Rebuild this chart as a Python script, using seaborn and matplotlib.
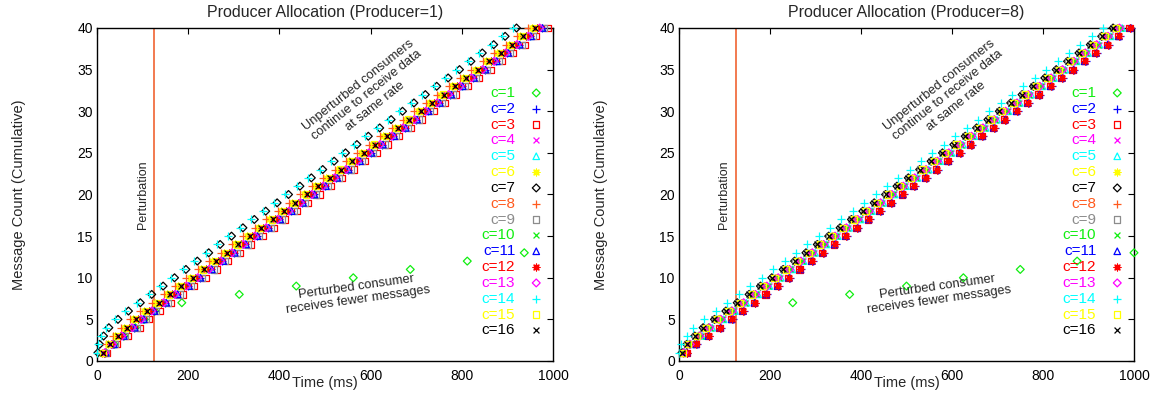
import numpy as np
import pandas as pd
import matplotlib
matplotlib.use("Agg")
import matplotlib.pyplot as plt
import seaborn as sns

# ---------------- data ----------------
consumers = [f"c={i}" for i in range(1, 17)]
msg_ids = list(range(1, 41))

# arrival time (ms) of each message at the leading consumer (c=14)
left_base_ms = [0, 2, 9, 19, 39, 62, 88,
                113, 138, 163, 188, 213, 238, 263, 288, 313, 338, 363, 388, 413,
                438, 463, 488, 513, 538, 563, 588, 613, 638, 663, 688, 713, 738,
                763, 788, 813, 838, 863, 888, 913]
right_base_ms = [0, 5, 17, 31, 56, 81, 106,
                 132, 157, 182, 207, 232, 257, 282, 307, 332, 357, 382, 407, 432,
                 457, 482, 507, 532, 557, 582, 607, 632, 657, 682, 707, 732, 757,
                 782, 807, 832, 857, 882, 907, 932]

# per-consumer lag (ms) behind the leading consumer, c=1..16
left_lag_ms = [65, 62, 75, 55, 60, 40, 7, 33, 68, 50, 64, 52, 58, 0, 45, 47]
right_lag_ms = [34, 62, 58, 40, 42, 31, 22, 30, 24, 38, 60, 60, 36, 0, 28, 22]

# lags are compressed for the first messages (start-up burst)
left_early_spread = [0.3, 0.55, 0.78]
right_early_spread = [0.3, 0.55, 0.8]

# perturbed consumer c=1: messages 7..13 after the perturbation
perturbed_msgs = [7, 8, 9, 10, 11, 12, 13]
left_c1_late_ms = [186, 312, 437, 562, 687, 812, 937]
right_c1_late_ms = [250, 375, 500, 625, 750, 875, 1000]

perturbation_ms = 125
titles = ["Producer Allocation (Producer=1)", "Producer Allocation (Producer=8)"]

# ---------------- styles ----------------
colors = ["#11ee11", "#0000ff", "#ff0000", "#ff00ff", "#00ffff", "#ffff00", "#000000",
          "#ff5a1e", "#8c8c8c",
          "#11ee11", "#0000ff", "#ff0000", "#ff00ff", "#00ffff", "#ffff00", "#000000"]
asterisk = (8, 2, 0)
markers = ["D", "+", "s", "x", "^", asterisk, "D", "+", "s", "x", "^", asterisk,
           "D", "+", "s", "x"]
open_markers = {"D", "s", "^"}
sizes = {"D": 16, "+": 28, "s": 20, "x": 18, "^": 22, "*": 24}


def build_frame(base, lags, spread, late):
    rows = []
    for ci, c in enumerate(consumers):
        for mi, m in enumerate(msg_ids):
            sc = spread[mi] if mi < len(spread) else 1.0
            t = base[mi] + lags[ci] * sc
            if ci == 0 and m >= perturbed_msgs[0]:
                if m in perturbed_msgs:
                    t = late[perturbed_msgs.index(m)]
                else:
                    continue
            rows.append((c, m, t))
    return pd.DataFrame(rows, columns=["consumer", "msg", "time"])


frames = [build_frame(left_base_ms, left_lag_ms, left_early_spread, left_c1_late_ms),
          build_frame(right_base_ms, right_lag_ms, right_early_spread, right_c1_late_ms)]

sns.set_theme(style="white")
plt.rcParams["font.family"] = ["Liberation Sans", "DejaVu Sans"]

fig = plt.figure(figsize=(11.58, 4.04), dpi=100)
axes = [fig.add_axes([97 / 1158, 1 - 361 / 404, 456 / 1158, 333 / 404]),
        fig.add_axes([679 / 1158, 1 - 361 / 404, 455 / 1158, 333 / 404])]

for ax, df, title in zip(axes, frames, titles):
    for ci, c in enumerate(consumers):
        sub = df[df["consumer"] == c]
        mk = markers[ci]
        key = mk if isinstance(mk, str) else "*"
        kws = dict(marker=mk, s=sizes[key], linewidth=0.9, clip_on=False,
                   zorder=3 + ci, label=c)
        if mk in open_markers:
            kws.update(facecolor="none", edgecolor=colors[ci])
        sns.scatterplot(data=sub, x="time", y="msg", color=colors[ci], ax=ax, **kws)

    ax.axvline(perturbation_ms, color="#f06432", lw=1.2, zorder=2)
    ax.set_xlim(0, 1000)
    ax.set_ylim(0, 40)
    ax.set_xticks([0, 200, 400, 600, 800, 1000])
    ax.set_yticks(list(range(0, 41, 5)))
    ax.tick_params(direction="in", length=4, width=0.8, top=True, right=True,
                   labelsize=10, pad=3, colors="black")
    ax.tick_params(axis="x", pad=6)
    for sp in ax.spines.values():
        sp.set_color("black")
        sp.set_linewidth(1.0)
    ax.set_xlabel("Time (ms)", fontsize=10.5, labelpad=-5)
    ax.set_ylabel("Message Count (Cumulative)", fontsize=10.5, labelpad=37)
    ax.set_title(title, fontsize=11.5, pad=8)

    ax.text(100, 20, "Perturbation", rotation=90, ha="center", va="center", fontsize=9)
    ax.text(591, 31.9, "Unperturbed consumers\ncontinue to receive data\nat same rate",
            rotation=38.5, rotation_mode="anchor", ha="center", va="center",
            fontsize=9.3, linespacing=1.15)
    ax.text(570, 8.1, "Perturbed consumer\nreceives fewer messages",
            rotation=8, rotation_mode="anchor", ha="center", va="center",
            fontsize=9.3, linespacing=1.15)

    leg = ax.legend(loc="upper right", bbox_to_anchor=(0.98, 0.826), markerfirst=False,
                    frameon=False, fontsize=11, labelspacing=0.12, handlelength=1.0,
                    handletextpad=0.87, borderpad=0, borderaxespad=0)
    for txt, col in zip(leg.get_texts(), colors):
        txt.set_color(col)

fig.savefig("out.png", dpi=100)
